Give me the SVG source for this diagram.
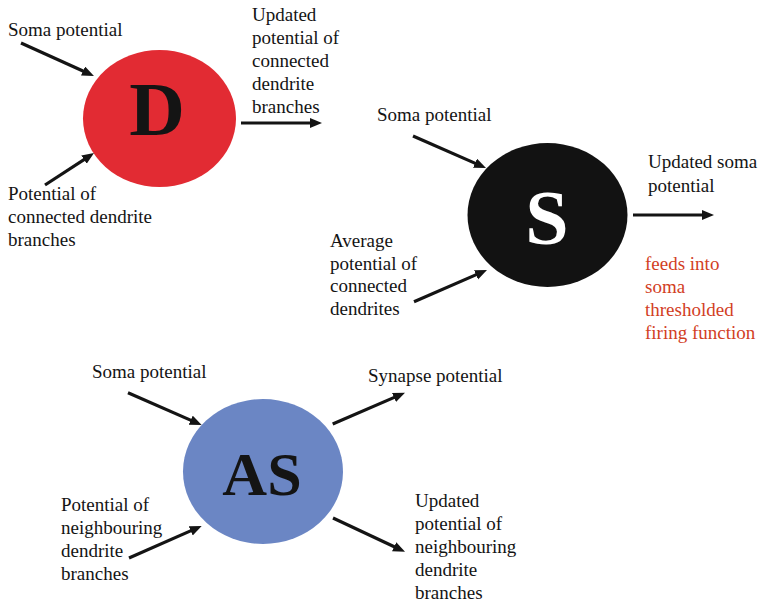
<svg xmlns="http://www.w3.org/2000/svg" width="760" height="605" viewBox="0 0 760 605">
  <style>
    .lbl { font-family: "Liberation Serif", "Times New Roman", serif; font-size: 19px; fill: #141414; }
    .note { font-family: "Liberation Serif", "Times New Roman", serif; font-size: 19px; fill: #d2401f; }
    .big { font-family: "Liberation Serif", "Times New Roman", serif; font-weight: bold; text-anchor: middle; }
    .arrow { stroke: #141414; stroke-width: 3.2; fill: none; marker-end: url(#head); }
  </style>
  <defs>
    <marker id="head" markerUnits="userSpaceOnUse" markerWidth="13" markerHeight="11" refX="6" refY="5" orient="auto">
      <path d="M0,0 L12,5 L0,10 z" fill="#141414"/>
    </marker>
  </defs>
  <rect width="760" height="605" fill="#ffffff"/>

  <!-- Dendrite node -->
  <g id="node-d">
    <ellipse cx="159.5" cy="118.5" rx="76.5" ry="68.5" fill="#e22b33"/>
    <text class="big" x="157" y="135" font-size="77" fill="#141414">D</text>
  </g>

  <!-- Soma node -->
  <g id="node-s">
    <ellipse cx="547.5" cy="215" rx="80" ry="72" fill="#121212"/>
    <text class="big" x="547" y="244" font-size="78" fill="#ffffff">S</text>
  </g>

  <!-- Axon/synapse node -->
  <g id="node-as">
    <ellipse cx="263" cy="471.5" rx="80" ry="72.5" fill="#6b86c4"/>
    <text class="big" x="262" y="495" font-size="62" fill="#141414">AS</text>
  </g>

  <!-- Labels -->
  <g id="labels">
    <text class="lbl" x="8" y="36">Soma potential</text>
    <text class="lbl" x="8" y="200">Potential of</text>
    <text class="lbl" x="8" y="223">connected dendrite</text>
    <text class="lbl" x="8" y="246">branches</text>
    <text class="lbl" x="252" y="21">Updated</text>
    <text class="lbl" x="252" y="44">potential of</text>
    <text class="lbl" x="252" y="67">connected</text>
    <text class="lbl" x="252" y="89.5">dendrite</text>
    <text class="lbl" x="252" y="112.5">branches</text>

    <text class="lbl" x="377" y="121">Soma potential</text>
    <text class="lbl" x="330" y="247">Average</text>
    <text class="lbl" x="330" y="269.5">potential of</text>
    <text class="lbl" x="330" y="292">connected</text>
    <text class="lbl" x="330" y="315">dendrites</text>
    <text class="lbl" x="648" y="168">Updated soma</text>
    <text class="lbl" x="648" y="192">potential</text>
    <text class="note" x="645" y="270">feeds into</text>
    <text class="note" x="645" y="293">soma</text>
    <text class="note" x="645" y="316">thresholded</text>
    <text class="note" x="645" y="339">firing function</text>

    <text class="lbl" x="92" y="378">Soma potential</text>
    <text class="lbl" x="368" y="382">Synapse potential</text>
    <text class="lbl" x="61" y="511">Potential of</text>
    <text class="lbl" x="61" y="534">neighbouring</text>
    <text class="lbl" x="61" y="557">dendrite</text>
    <text class="lbl" x="61" y="580">branches</text>
    <text class="lbl" x="415" y="507">Updated</text>
    <text class="lbl" x="415" y="530">potential of</text>
    <text class="lbl" x="415" y="553">neighbouring</text>
    <text class="lbl" x="415" y="576">dendrite</text>
    <text class="lbl" x="415" y="599">branches</text>
  </g>

  <!-- Connectors -->
  <g id="connectors">
    <line class="arrow" x1="21" y1="43" x2="88.5" y2="73.5"/>
    <line class="arrow" x1="45" y1="185" x2="89" y2="156.3"/>
    <line class="arrow" x1="241" y1="123" x2="316" y2="123"/>
    <line class="arrow" x1="413" y1="136" x2="480.5" y2="165.6"/>
    <line class="arrow" x1="414" y1="301.7" x2="481.5" y2="272.4"/>
    <line class="arrow" x1="633" y1="215" x2="708" y2="215"/>
    <line class="arrow" x1="128" y1="392.7" x2="196.2" y2="422.6"/>
    <line class="arrow" x1="332.7" y1="424" x2="399.5" y2="395.1"/>
    <line class="arrow" x1="129" y1="558" x2="196.2" y2="528.4"/>
    <line class="arrow" x1="333" y1="518" x2="399.6" y2="549.2"/>
  </g>
</svg>
